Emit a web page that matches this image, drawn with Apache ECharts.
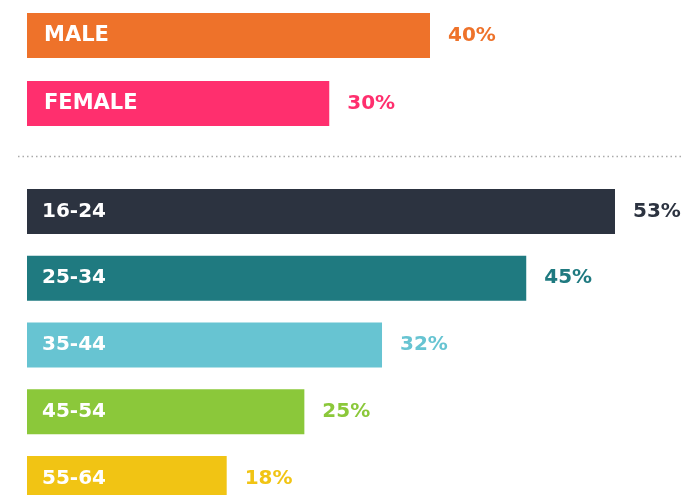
<!DOCTYPE html>
<html>
<head>
<meta charset="utf-8">
<script src="https://cdn.jsdelivr.net/npm/echarts@6/dist/echarts.min.js"></script>
<style>
  html, body { margin: 0; padding: 0; background: #fff; }
  #chart { width: 684px; height: 495px; }
</style>
</head>
<body>
<div id="chart"></div>
<script>
// data
var genderCats = ['MALE', 'FEMALE'];
var genderValues = [40, 30];
var genderColors = ['#EE722A', '#FF2F6E'];

var ageCats = ['16-24', '25-34', '35-44', '45-54', '55-64'];
var ageValues = [53, 45, 32, 25, 18];
var ageColors = ['#2C3340', '#1F7A80', '#67C4D2', '#8BC83A', '#F1C414'];

var FONT = '"DejaVu Sans", sans-serif';

function items(vals, colors) {
	return vals.map(function (v, i) {
		return {
			value: v,
			itemStyle: { color: colors[i] },
			label: { color: colors[i] }
		};
	});
}

function catAxis(idx, cats, margin, size) {
	return {
		type: 'category',
		gridIndex: idx,
		data: cats,
		inverse: true,
		boundaryGap: false,
		z: 10,
		axisLine: { show: false },
		axisTick: { show: false },
		axisLabel: {
			inside: true,
			margin: margin,
			color: '#fff',
			fontFamily: FONT,
			fontWeight: 'bold',
			fontSize: size
		}
	};
}

function valAxis(idx, max) {
	return {
		type: 'value',
		gridIndex: idx,
		min: 0,
		max: max,
		show: false,
		splitLine: { show: false }
	};
}

function valueLabel(size) {
	return {
		show: true,
		position: 'right',
		distance: 18,
		formatter: '{c}%',
		fontFamily: FONT,
		fontWeight: 'bold',
		fontSize: size
	};
}

// categories sit on ticks (boundaryGap false) so the last bar can run off the bottom
var option = {
	animation: false,
	grid: [
		{ left: 27, top: 35.5, width: 403, height: 68 },
		{ left: 27, top: 211.5, width: 588, height: 267 }
	],
	xAxis: [valAxis(0, genderValues[0]), valAxis(1, ageValues[0])],
	yAxis: [catAxis(0, genderCats, 17, 21), catAxis(1, ageCats, 15, 20)],
	series: [
		{
			type: 'bar',
			xAxisIndex: 0,
			yAxisIndex: 0,
			barWidth: 45,
			clip: false,
			data: items(genderValues, genderColors),
			label: valueLabel(20)
		},
		{
			type: 'bar',
			xAxisIndex: 1,
			yAxisIndex: 1,
			barWidth: 45,
			clip: false,
			data: items(ageValues, ageColors),
			label: valueLabel(20)
		}
	],
	graphic: [
		{
			type: 'line',
			shape: { x1: 18, y1: 156.5, x2: 684, y2: 156.5 },
			style: { stroke: '#aaaaaa', lineWidth: 1.5, lineDash: [1.5, 3] }
		}
	]
};

var chart = echarts.init(document.getElementById('chart'));
chart.setOption(option);
</script>
</body>
</html>
